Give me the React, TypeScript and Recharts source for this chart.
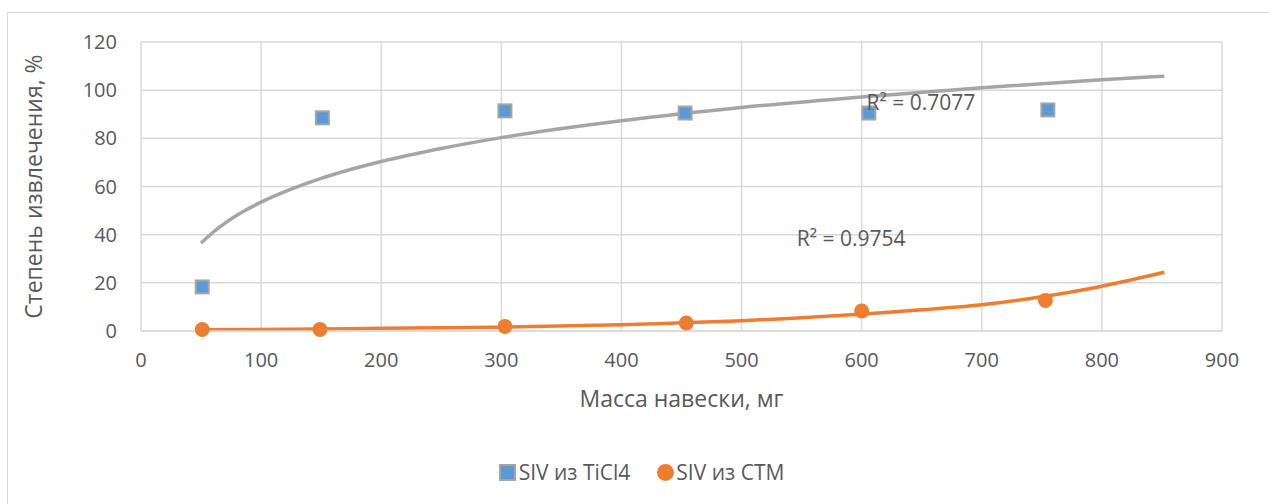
import {
  ComposedChart,
  Line,
  Scatter,
  XAxis,
  YAxis,
  CartesianGrid,
  ReferenceDot,
} from 'recharts';

// measured points
const ticlMass = [51, 151, 303, 453, 606, 755];
const ticlYield = [18.3, 88.5, 91.4, 90.5, 90.5, 91.8];
const ctmMass = [51, 149, 303, 454, 600, 753];
const ctmYield = [0.6, 0.6, 1.9, 3.3, 8.3, 12.7];

// trendlines (log fit for TiCl4, exponential fit for CTM)
const ticlTrendX = [50, 60, 70, 85, 100, 125, 150, 200, 250, 300, 400, 500, 600, 700, 800, 852];
const ticlTrendY = [36.5, 41.0, 44.8, 49.6, 53.5, 58.9, 63.4, 70.4, 75.8, 80.3, 87.3, 92.8, 97.2, 101.0, 104.3, 105.8];
const ctmTrendX = [50, 150, 200, 300, 400, 450, 500, 550, 600, 650, 700, 750, 800, 852];
const ctmTrendY = [0.5, 0.8, 1.1, 1.6, 2.6, 3.4, 4.3, 5.5, 7.0, 8.8, 10.9, 14.2, 18.6, 24.4];

const xTicks = [0, 100, 200, 300, 400, 500, 600, 700, 800, 900];
const yTicks = [0, 20, 40, 60, 80, 100, 120];

const ticlR2 = 'R² = 0.7077';
const ctmR2 = 'R² = 0.9754';
const ticlName = 'SIV из TiCl4';
const ctmName = 'SIV из CTM';

const zip = (xs: number[], ys: number[]) => xs.map((x, i) => ({ x, y: ys[i] }));

const ticlPoints = zip(ticlMass, ticlYield);
const ctmPoints = zip(ctmMass, ctmYield);
const ticlTrend = zip(ticlTrendX, ticlTrendY);
const ctmTrend = zip(ctmTrendX, ctmTrendY);

const FONT = '"Open Sans", sans-serif';
const TEXT = '#595959';
const GRID = '#D9D9D9';
const BLUE = '#5B9BD5';
const ORANGE = '#ED7D31';
const GRAY = '#A5A5A5';

const SquareMarker = (props: any) => {
  const { cx, cy } = props;
  return (
    <rect x={cx - 6.5} y={cy - 6.5} width={13} height={13} fill={BLUE} stroke={GRAY} strokeWidth={2} />
  );
};

const CircleMarker = (props: any) => {
  const { cx, cy } = props;
  return <circle cx={cx} cy={cy} r={7.5} fill={ORANGE} />;
};

const App = () => {
  return (
    <div
      style={{
        position: 'absolute',
        left: 7,
        top: 12,
        width: 1290,
        height: 510,
        border: `1px solid ${GRID}`,
        background: '#fff',
        fontFamily: FONT,
      }}
    >
      <ComposedChart
        width={1261}
        height={490}
        margin={{ top: 29, right: 47, left: 0, bottom: 0 }}
      >
        <CartesianGrid stroke={GRID} strokeWidth={1.5} />
        <XAxis
          dataKey="x"
          type="number"
          domain={[0, 900]}
          ticks={xTicks}
          height={172}
          axisLine={{ stroke: GRID, strokeWidth: 1.5 }}
          tickLine={false}
          tickSize={0}
          tickMargin={22}
          tick={{ fill: TEXT, fontSize: 20, fontFamily: FONT }}
          label={{
            value: 'Масса навески, мг',
            position: 'insideTop',
            offset: 60,
            fill: TEXT,
            fontSize: 23,
            fontFamily: FONT,
          }}
        />
        <YAxis
          type="number"
          domain={[0, 120]}
          ticks={yTicks}
          width={133}
          axisLine={false}
          tickLine={false}
          tickSize={0}
          tickMargin={24}
          tick={{ fill: TEXT, fontSize: 20, fontFamily: FONT }}
          label={{
            value: 'Степень извлечения, %',
            angle: -90,
            position: 'center',
            dx: -41,
            fill: TEXT,
            fontSize: 23,
            fontFamily: FONT,
          }}
        />
        <Line
          data={ticlTrend}
          dataKey="y"
          type="monotone"
          stroke={GRAY}
          strokeWidth={3.5}
          dot={false}
          activeDot={false}
          isAnimationActive={false}
        />
        <Line
          data={ctmTrend}
          dataKey="y"
          type="natural"
          stroke={ORANGE}
          strokeWidth={3.5}
          dot={false}
          activeDot={false}
          isAnimationActive={false}
        />
        <Scatter data={ticlPoints} dataKey="y" shape={SquareMarker} isAnimationActive={false} />
        <Scatter data={ctmPoints} dataKey="y" shape={CircleMarker} isAnimationActive={false} />
        <ReferenceDot
          x={604}
          y={94.7}
          r={0}
          label={{ value: ticlR2, position: 'right', offset: 0, fill: TEXT, fontSize: 21, fontFamily: FONT }}
        />
        <ReferenceDot
          x={546}
          y={38.2}
          r={0}
          label={{ value: ctmR2, position: 'right', offset: 0, fill: TEXT, fontSize: 21, fontFamily: FONT }}
        />
      </ComposedChart>
      <div
        style={{
          position: 'absolute',
          left: 0,
          top: 445,
          width: 1261,
          display: 'flex',
          justifyContent: 'center',
          alignItems: 'center',
          color: TEXT,
          fontSize: 21,
          paddingLeft: 3,
        }}
      >
        <span style={{ display: 'flex', alignItems: 'center', marginRight: 27 }}>
          <span
            style={{
              display: 'inline-block',
              width: 13,
              height: 13,
              background: BLUE,
              border: `2px solid ${GRAY}`,
              marginRight: 3,
            }}
          />
          {ticlName}
        </span>
        <span style={{ display: 'flex', alignItems: 'center' }}>
          <span
            style={{
              display: 'inline-block',
              width: 17,
              height: 17,
              borderRadius: '50%',
              background: ORANGE,
              marginRight: 2,
            }}
          />
          {ctmName}
        </span>
      </div>
    </div>
  );
};

export default App;
